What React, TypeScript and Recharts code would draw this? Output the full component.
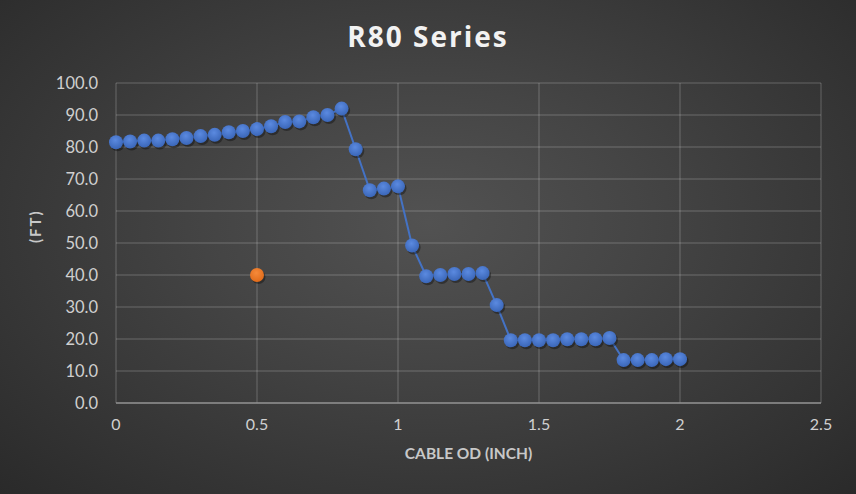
import React from 'react';
import { ScatterChart, Scatter, XAxis, YAxis, CartesianGrid, Label } from 'recharts';

const cableOd = [0, 0.05, 0.1, 0.15, 0.2, 0.25, 0.3, 0.35, 0.4, 0.45, 0.5, 0.55, 0.6, 0.65, 0.7, 0.75, 0.8, 0.85, 0.9, 0.95, 1.0, 1.05, 1.1, 1.15, 1.2, 1.25, 1.3, 1.35, 1.4, 1.45, 1.5, 1.55, 1.6, 1.65, 1.7, 1.75, 1.8, 1.85, 1.9, 1.95, 2.0];
const lengthFt = [81.5, 81.7, 82.0, 82.0, 82.4, 82.8, 83.4, 83.8, 84.6, 85.0, 85.6, 86.5, 87.8, 88.0, 89.3, 90.0, 92.0, 79.3, 66.5, 67.0, 67.7, 49.2, 39.6, 40.0, 40.3, 40.3, 40.6, 30.6, 19.6, 19.6, 19.6, 19.6, 19.9, 19.9, 19.9, 20.3, 13.4, 13.4, 13.4, 13.7, 13.7];
const markX = [0.5];
const markY = [40];
const xTicks = [0, 0.5, 1, 1.5, 2, 2.5];
const yTicks = [0, 10, 20, 30, 40, 50, 60, 70, 80, 90, 100];

const seriesData = cableOd.map((x, i) => ({ x, y: lengthFt[i] }));
const markData = markX.map((x, i) => ({ x, y: markY[i] }));

const FONT = 'Lato, "Open Sans", sans-serif';

const BlueDot = (props: any) => {
  const { cx, cy } = props;
  if (cx == null || cy == null) return null;
  return (
    <g>
      <circle cx={cx + 1.5} cy={cy + 2} r={7} fill="rgba(0,0,0,0.35)" />
      <circle cx={cx} cy={cy} r={7} fill="url(#blueGrad)" />
    </g>
  );
};

const OrangeDot = (props: any) => {
  const { cx, cy } = props;
  if (cx == null || cy == null) return null;
  return (
    <g>
      <circle cx={cx + 1.5} cy={cy + 2} r={7} fill="rgba(0,0,0,0.35)" />
      <circle cx={cx} cy={cy} r={7} fill="url(#orangeGrad)" />
    </g>
  );
};

export default function App() {
  return (
    <div
      style={{
        position: 'relative',
        width: 856,
        height: 494,
        background: 'radial-gradient(ellipse at 50% 45%, #525252 0%, #454545 35%, #2a2a2a 100%)',
        fontFamily: FONT,
      }}
    >
      <style>{`body{margin:0}`}</style>
      <div
        style={{
          position: 'absolute',
          top: 17,
          left: 0,
          width: 856,
          textAlign: 'center',
          color: '#f2f2f2',
          fontSize: 28,
          fontWeight: 700,
          fontFamily: '"Open Sans", sans-serif',
          letterSpacing: 2,
        }}
      >
        R80 Series
      </div>
      <div style={{ position: 'absolute', top: 0, left: 0 }}>
        <ScatterChart width={856} height={494} margin={{ top: 83, right: 35, bottom: 31, left: 0 }}>
          <defs>
            <radialGradient id="blueGrad" cx="45%" cy="35%" r="65%">
              <stop offset="0%" stopColor="#5b8ae0" />
              <stop offset="100%" stopColor="#3a66b8" />
            </radialGradient>
            <radialGradient id="orangeGrad" cx="45%" cy="35%" r="65%">
              <stop offset="0%" stopColor="#f58a3a" />
              <stop offset="100%" stopColor="#e06b1a" />
            </radialGradient>
          </defs>
          <CartesianGrid stroke="rgba(255,255,255,0.16)" strokeWidth={1.5} />
          <XAxis
            type="number"
            dataKey="x"
            domain={[0, 2.5]}
            ticks={xTicks}
            tickFormatter={(v: number) => String(v)}
            height={60}
            tickSize={0}
            tickMargin={16}
            axisLine={{ stroke: '#8c8c8c', strokeWidth: 1.5 }}
            tick={{ fill: '#d0d0d0', fontSize: 16, fontFamily: FONT }}
            interval={0}
          >
            <Label value="CABLE OD (INCH)" position="insideBottom" offset={4} fill="#c8c8c8" fontSize={15.5} fontWeight={700} fontFamily={FONT} />
          </XAxis>
          <YAxis
            type="number"
            dataKey="y"
            domain={[0, 100]}
            ticks={yTicks}
            tickFormatter={(v: number) => v.toFixed(1)}
            width={116}
            tickSize={0}
            tickMargin={18}
            axisLine={false}
            tick={{ fill: '#d0d0d0', fontSize: 16.5, fontFamily: FONT }}
            interval={0}
          >
            <Label value="(FT)" angle={-90} position="insideLeft" offset={36} fill="#c8c8c8" fontSize={15} fontWeight={700} fontFamily={FONT} style={{ letterSpacing: 2 }} />
          </YAxis>
          <Scatter
            data={seriesData}
            line={{ stroke: '#4472c4', strokeWidth: 2 }}
            lineType="joint"
            shape={<BlueDot />}
            isAnimationActive={false}
          />
          <Scatter data={markData} shape={<OrangeDot />} isAnimationActive={false} />
        </ScatterChart>
      </div>
    </div>
  );
}
